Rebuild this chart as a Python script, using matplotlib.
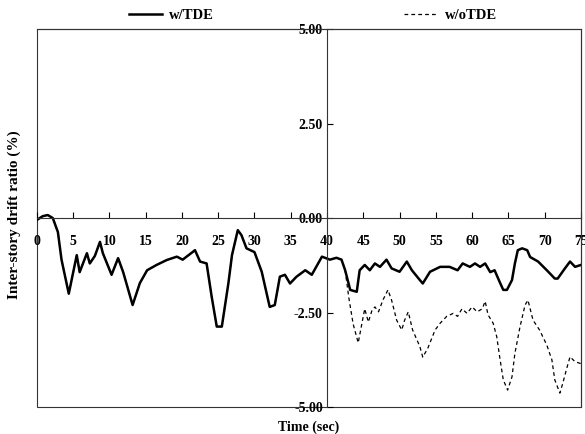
import numpy as np
import matplotlib
matplotlib.use("Agg")
import matplotlib.pyplot as plt
from matplotlib.patches import Rectangle

plt.rcParams['font.family'] = ['Liberation Serif', 'DejaVu Serif']
plt.rcParams['font.weight'] = 'bold'

# shared part of both records (0-42 s)
t_common = [0, 0.8, 1.5, 2.2, 2.9, 3.4, 4.4, 5.5, 5.9, 6.9, 7.3, 8.0, 8.7, 9.1,
            10.3, 11.2, 11.9, 13.2, 14.2, 15.2, 16.5, 17.9, 19.3, 20.1, 21.8,
            22.5, 23.4, 24.1, 24.8, 25.5, 26.4, 26.9, 27.7, 28.2, 28.9, 30.0,
            31.0, 32.1, 32.8, 33.5, 34.2, 34.9, 35.8, 37.0, 37.9, 39.3, 40.4,
            41.3, 42.0]
d_common = [-0.05, 0.05, 0.08, 0.0, -0.37, -1.1, -2.0, -0.98, -1.43, -0.93,
            -1.2, -1.0, -0.63, -0.93, -1.5, -1.06, -1.43, -2.3, -1.72, -1.38,
            -1.24, -1.11, -1.02, -1.1, -0.85, -1.15, -1.2, -2.08, -2.87, -2.87,
            -1.73, -0.98, -0.32, -0.45, -0.8, -0.9, -1.42, -2.35, -2.3, -1.55,
            -1.5, -1.73, -1.55, -1.38, -1.5, -1.02, -1.1, -1.05, -1.1]

# w/TDE after 42 s
t_tde = [42.5, 43.2, 44.1, 44.5, 45.2, 45.9, 46.6, 47.3, 48.2, 48.9, 50.0,
         51.0, 51.7, 52.8, 53.2, 54.2, 55.6, 56.9, 58.0, 58.7, 59.7, 60.4,
         61.1, 61.8, 62.5, 63.1, 63.8, 64.3, 64.8, 65.5, 65.9, 66.3, 66.9,
         67.6, 68.0, 69.1, 70.3, 71.4, 71.8, 72.8, 73.5, 74.2, 75.0]
d_tde = [-1.38, -1.9, -1.95, -1.38, -1.24, -1.38, -1.2, -1.29, -1.1, -1.33,
         -1.42, -1.15, -1.38, -1.64, -1.73, -1.42, -1.29, -1.29, -1.38, -1.2,
         -1.29, -1.2, -1.29, -1.2, -1.43, -1.38, -1.69, -1.9, -1.9, -1.64,
         -1.2, -0.85, -0.8, -0.85, -1.03, -1.15, -1.38, -1.6, -1.6, -1.33,
         -1.15, -1.29, -1.24]

# w/oTDE after 42 s
t_no = [42.5, 43.0, 43.6, 44.3, 44.8, 45.2, 45.7, 46.2, 46.6, 47.1, 47.7,
        48.4, 48.9, 49.6, 50.3, 50.7, 51.2, 51.8, 52.8, 53.2, 53.9, 54.9,
        55.6, 56.5, 57.4, 58.0, 58.6, 59.3, 60.0, 60.7, 61.4, 61.8, 62.2,
        62.9, 63.4, 63.8, 64.3, 64.9, 65.5, 65.9, 66.6, 67.3, 67.7, 68.4,
        69.3, 70.3, 71.0, 71.4, 72.1, 72.5, 73.1, 73.5, 74.2, 75.0]
d_no = [-1.38, -2.1, -2.8, -3.3, -2.8, -2.4, -2.75, -2.44, -2.35, -2.48,
        -2.17, -1.9, -2.17, -2.7, -2.96, -2.7, -2.48, -2.96, -3.4, -3.68,
        -3.44, -2.96, -2.78, -2.6, -2.52, -2.6, -2.4, -2.52, -2.35, -2.48,
        -2.4, -2.2, -2.56, -2.78, -3.14, -3.67, -4.28, -4.55, -4.2, -3.58,
        -2.88, -2.3, -2.17, -2.7, -2.96, -3.36, -3.75, -4.28, -4.63, -4.37,
        -3.94, -3.67, -3.8, -3.85]

x_ticks = list(range(0, 80, 5))
y_ticks = [-5.0, -2.5, 0.0, 2.5, 5.0]

fig = plt.figure(figsize=(5.85, 4.34), dpi=100)
ax = fig.add_axes([0.063, 0.062, 0.93, 0.871])

ax.plot(t_common + t_tde, d_common + d_tde, color='black', lw=1.8, label='w/TDE')
ax.plot(t_common + t_no, d_common + d_no, color='black', lw=0.9,
        dashes=(3, 2.5), label='w/oTDE')

ax.set_xlim(0, 75)
ax.set_ylim(-5, 5)

ax.spines['left'].set_position(('data', 40))
ax.spines['bottom'].set_position(('data', 0))
for s in ax.spines.values():
    s.set_linewidth(0.8)
    s.set_color('#333333')
ax.add_patch(Rectangle((0, 0), 1, 1, transform=ax.transAxes, fill=False,
                       lw=0.8, edgecolor='#333333', clip_on=False))

ax.set_xticks(x_ticks)
ax.set_xticklabels([str(v) for v in x_ticks])
ax.set_yticks(y_ticks)
ax.set_yticklabels(['%.2f' % v for v in y_ticks])
ax.tick_params(axis='x', direction='in', length=4, pad=12, labelsize=10)
ax.tick_params(axis='y', direction='in', length=4, pad=3, labelsize=10)
for lab in ax.get_xticklabels() + ax.get_yticklabels():
    lab.set_fontweight('bold')

ax.set_xlabel('Time (sec)', fontsize=10, fontweight='bold')
ax.xaxis.set_label_coords(0.5, -0.035)
ax.set_ylabel('Inter-story drift ratio (%)', fontsize=11, fontweight='bold')
ax.yaxis.set_label_coords(-0.029, 0.51)

ax.legend(loc='lower center', bbox_to_anchor=(0.507, 1.002), ncol=2,
          frameon=False, fontsize=10.5, handlelength=2.3, handletextpad=0.5,
          columnspacing=13, borderaxespad=0)

fig.savefig('out.png', dpi=100)
